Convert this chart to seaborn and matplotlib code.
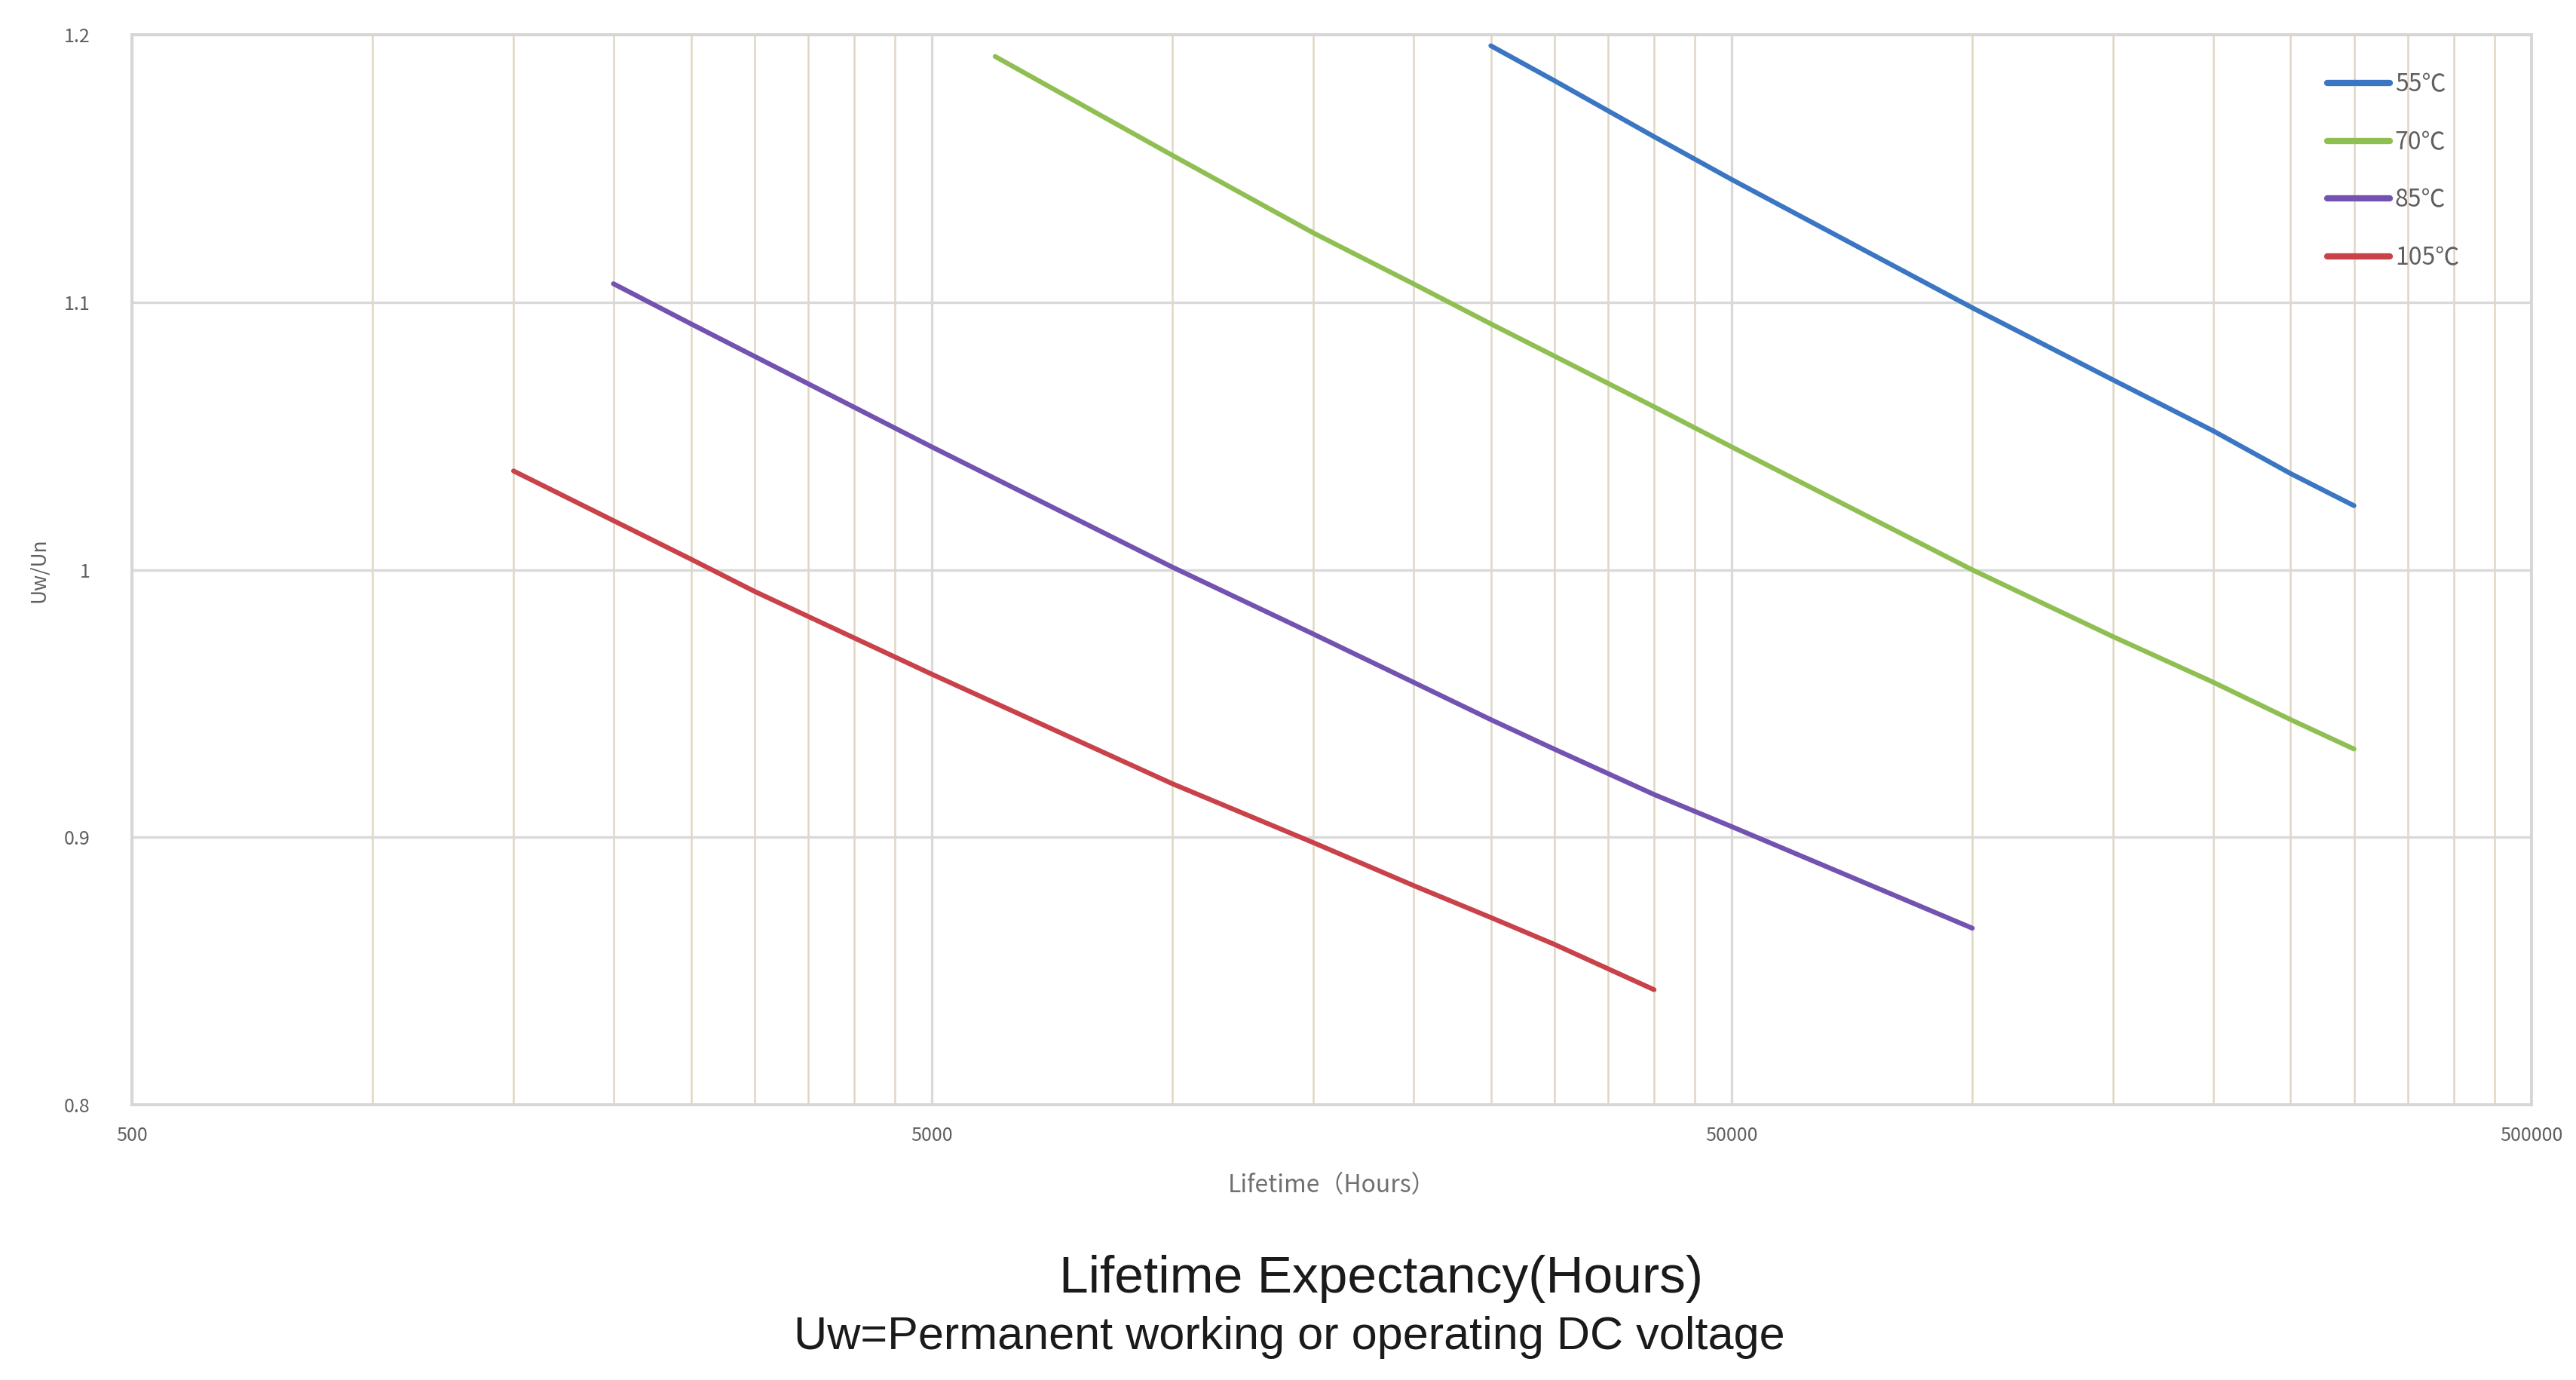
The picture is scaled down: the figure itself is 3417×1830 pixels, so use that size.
import numpy as np
import pandas as pd
import matplotlib
matplotlib.use("Agg")
import matplotlib.pyplot as plt
import matplotlib.ticker as mticker
import seaborn as sns

# ---- data ----
labels = ["55℃", "70℃", "85℃", "105℃"]

x_55 = [25000, 30000, 40000, 50000, 100000, 150000, 200000, 250000, 300000]
y_55 = [1.196, 1.183, 1.162, 1.146, 1.098, 1.071, 1.052, 1.036, 1.024]

x_70 = [6000, 10000, 15000, 20000, 25000, 30000, 40000, 50000, 100000, 150000, 200000, 250000, 300000]
y_70 = [1.192, 1.155, 1.126, 1.107, 1.092, 1.080, 1.061, 1.046, 1.000, 0.975, 0.958, 0.944, 0.933]

x_85 = [2000, 2500, 5000, 10000, 15000, 20000, 25000, 30000, 40000, 50000, 100000]
y_85 = [1.107, 1.092, 1.046, 1.001, 0.976, 0.958, 0.944, 0.933, 0.916, 0.904, 0.866]

x_105 = [1500, 2500, 3000, 5000, 10000, 15000, 20000, 25000, 30000, 40000]
y_105 = [1.037, 1.004, 0.992, 0.961, 0.920, 0.898, 0.882, 0.870, 0.860, 0.843]

x_ticks = [500, 5000, 50000, 500000]
y_ticks = [0.8, 0.9, 1.0, 1.1, 1.2]
y_tick_labels = ["0.8", "0.9", "1", "1.1", "1.2"]

x_title = "Lifetime（Hours）"
y_title = "Uw/Un"
caption1 = "Lifetime Expectancy(Hours)"
caption2 = "Uw=Permanent working or operating DC voltage"

colors = {"55℃": "#3b76c3", "70℃": "#8fbf52", "85℃": "#7352b0", "105℃": "#c9424a"}

# ---- build long-form table ----
frames = []
for lab, xs, ys in zip(labels, [x_55, x_70, x_85, x_105], [y_55, y_70, y_85, y_105]):
    frames.append(pd.DataFrame({"Lifetime": xs, "Ratio": ys, "Temp": lab}))
df = pd.concat(frames, ignore_index=True)

sns.set_style("white")
plt.rcParams["font.family"] = ["Noto Sans CJK SC", "DejaVu Sans"]

fig = plt.figure(figsize=(34.17, 18.30), dpi=100)
ax = fig.add_axes([0.0512, 0.1995, 0.9315, 0.7751])

sns.lineplot(data=df, x="Lifetime", y="Ratio", hue="Temp", hue_order=labels,
             palette=colors, linewidth=4.6, ax=ax, sort=True, estimator=None)

ax.set_xscale("log")
ax.set_xlim(500, 500000)
ax.set_ylim(0.8, 1.2)

# grid: minor vertical lines at multiples of 500 in every decade
minor = []
for base in [500, 5000, 50000]:
    for k in range(2, 10):
        minor.append(base * k)
ax.xaxis.set_major_locator(mticker.FixedLocator(x_ticks))
ax.xaxis.set_minor_locator(mticker.FixedLocator(minor))
ax.xaxis.set_major_formatter(mticker.FixedFormatter([str(v) for v in x_ticks]))
ax.xaxis.set_minor_formatter(mticker.NullFormatter())
ax.yaxis.set_major_locator(mticker.FixedLocator(y_ticks))
ax.yaxis.set_major_formatter(mticker.FixedFormatter(y_tick_labels))

ax.grid(True, which="major", axis="y", color="#d9d9d9", linewidth=2.4)
ax.grid(True, which="major", axis="x", color="#dadada", linewidth=2.4)
ax.grid(True, which="minor", axis="x", color="#e0d7c2", linewidth=1.8)
ax.set_axisbelow(True)

ax.tick_params(axis="both", which="both", length=0, labelsize=18, colors="#5f5f5f")
ax.tick_params(axis="x", pad=20)
ax.tick_params(axis="y", pad=40)
for lab in ax.get_xticklabels() + ax.get_yticklabels():
    lab.set_fontweight("medium")

for side, sp in ax.spines.items():
    sp.set_visible(True)
    sp.set_color("#d6d6d6")
    sp.set_linewidth(2.8)

ax.set_xlabel(x_title, fontsize=23, color="#707070", labelpad=27, fontweight="medium")
ax.set_ylabel(y_title, fontsize=19, color="#5f5f5f", labelpad=14)

leg = ax.legend(loc="upper left", bbox_to_anchor=(0.915, 0.965), frameon=False,
                fontsize=23, handlelength=2.6, handletextpad=0.2, labelspacing=1.4,
                borderaxespad=0, borderpad=0)
for line in leg.get_lines():
    line.set_linewidth(6.0)
for t in leg.get_texts():
    t.set_color("#5f5f5f")

fig.text(0.536, 0.073, caption1, ha="center", va="center", fontsize=50,
         family="Liberation Sans", color="#1a1a1a")
fig.text(0.5006, 0.031, caption2, ha="center", va="center", fontsize=44,
         family="Liberation Sans", color="#1a1a1a")

fig.savefig("out.png", dpi=100, facecolor="white")
